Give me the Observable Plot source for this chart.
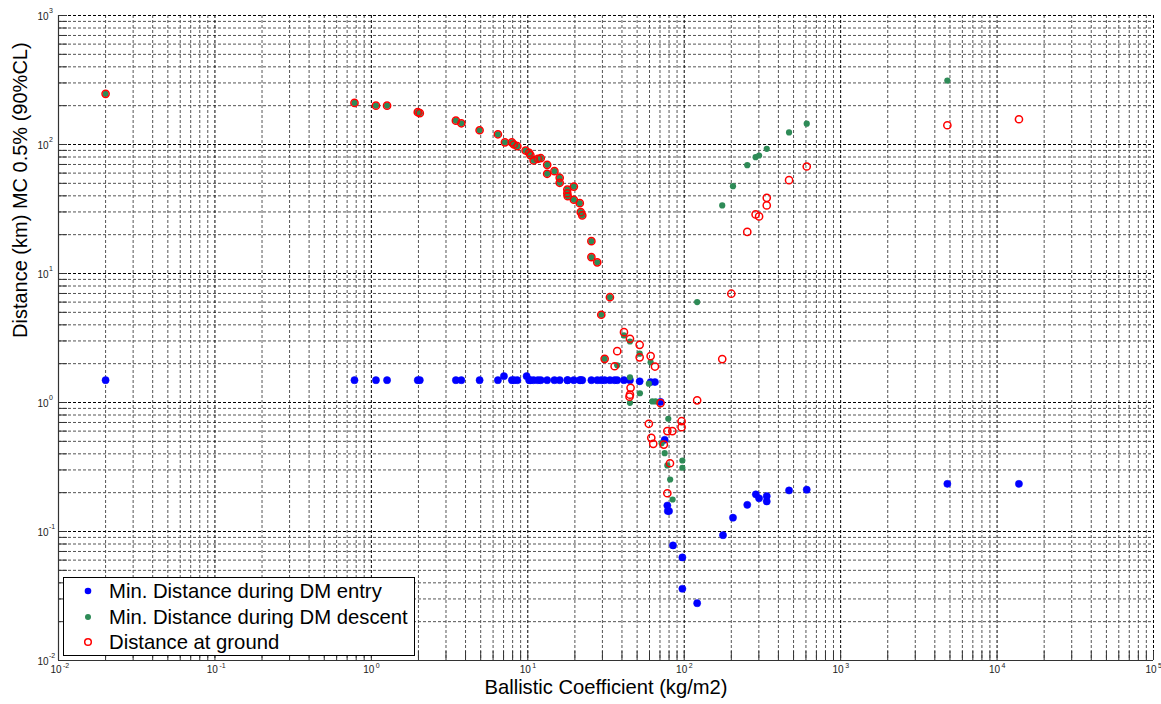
<!DOCTYPE html>
<html><head><meta charset="utf-8">
<script src="https://cdn.jsdelivr.net/npm/d3@7"></script>
<script src="https://cdn.jsdelivr.net/npm/@observablehq/plot@0.6"></script>
<style>
body{margin:0;background:#fff;}
#wrap{position:relative;width:1161px;height:704px;font-family:"Liberation Sans",Arial,sans-serif;}
#legend{position:absolute;left:63px;top:577px;width:350px;height:77px;border:1px solid #000;background:#fff;}
</style></head><body><div id="wrap"><div id="chart"></div><div id="legend"></div></div>
<script>
// ---- data ----
const seriesNames = ["Min. Distance during DM entry", "Min. Distance during DM descent", "Distance at ground"];
const seriesColors = ["#0000ff", "#2e8b57", "#ff0000"];

const entryBC = [0.02, 0.78, 1.07, 1.26, 1.98, 2.04, 3.47, 3.76, 4.92, 6.44, 7.04, 7.91, 8.15, 8.57, 9.83, 10.2, 10.4, 10.9, 11.6, 12.1, 13.3, 14.8, 16.0, 17.9, 18.0, 19.7, 21.5, 21.8, 22.3, 25.5, 27.8, 29.5, 31.0, 33.5, 35.9, 37.3, 41.2, 45.0, 51.9, 61.0, 65.0, 70.6, 75.0, 78.0, 78.5, 80.0, 84.8, 97.3, 97.3, 121, 177, 205, 253, 287, 301, 337, 337, 468, 607, 4810, 13800];
const entryDist = [1.49, 1.49, 1.49, 1.49, 1.49, 1.49, 1.49, 1.49, 1.49, 1.49, 1.60, 1.49, 1.49, 1.49, 1.60, 1.49, 1.49, 1.49, 1.49, 1.49, 1.49, 1.49, 1.49, 1.49, 1.49, 1.49, 1.49, 1.49, 1.49, 1.49, 1.49, 1.49, 1.49, 1.49, 1.49, 1.49, 1.49, 1.49, 1.46, 1.44, 1.44, 1.01, 0.514, 0.159, 0.144, 0.144, 0.078, 0.063, 0.036, 0.0278, 0.0936, 0.128, 0.161, 0.194, 0.181, 0.188, 0.171, 0.208, 0.211, 0.234, 0.234];

const descentBC = [0.02, 0.78, 1.07, 1.26, 1.98, 2.04, 3.47, 3.76, 4.92, 6.44, 7.14, 7.91, 8.15, 8.57, 9.68, 10.2, 10.4, 10.9, 11.6, 12.1, 13.3, 13.3, 14.8, 16.0, 16.0, 17.9, 19.7, 17.9, 18.0, 19.7, 21.5, 21.8, 22.3, 25.5, 25.5, 27.8, 29.5, 33.5, 31.0,
  41.2, 45.0, 51.9, 61.0, 37.3, 45.0, 59.4, 52.1, 45.0, 62.5, 65.6, 79.1, 71.7, 75.0, 78.0, 97.3, 97.3, 81.3, 84.3, 121, 175, 205, 253, 286, 301, 337, 468, 607, 4810];
const descentDist = [247, 210, 200, 200, 178, 175, 153, 146, 129, 120, 104, 104, 100, 97, 89.8, 86.3, 82.6, 75.2, 77.5, 78.3, 69.6, 59.3, 62.1, 55.2, 50.5, 44.8, 47.2, 41.9, 39.7, 37.3, 35.1, 29.9, 28.2, 17.8, 13.4, 12.2, 4.79, 6.55, 2.18,
  3.31, 2.97, 2.39, 2.05, 1.94, 1.57, 1.40, 1.18, 0.995, 1.02, 1.02, 0.748, 0.483, 0.405, 0.325, 0.355, 0.312, 0.253, 0.177, 6.0, 33.7, 47.5, 69.1, 79.7, 82.2, 92.6, 124, 145, 313];

const groundBC = [0.02, 0.78, 1.07, 1.26, 1.98, 2.04, 3.47, 3.76, 4.92, 6.44, 7.14, 7.91, 8.15, 8.57, 9.68, 10.2, 10.4, 10.9, 11.6, 12.1, 13.3, 13.3, 14.8, 16.0, 16.0, 17.9, 19.7, 17.9, 18.0, 19.7, 21.5, 21.8, 22.3, 25.5, 25.5, 27.8, 29.5, 33.5, 31.0,
  41.2, 45.0, 51.9, 51.9, 37.3, 61.0, 65.0, 35.9, 45.4, 45.0, 44.7, 70.6, 121, 59.4, 96.2, 96.2, 78.0, 84.0, 61.6, 63.4, 74.1, 81.1, 78.0, 175, 200, 253, 286, 301, 337, 337, 468, 607, 4810, 13800];
const groundDist = [247, 210, 200, 200, 178, 175, 153, 146, 129, 120, 104, 104, 100, 97, 89.8, 86.3, 82.6, 75.2, 77.5, 78.3, 69.6, 59.3, 62.1, 55.2, 50.5, 44.8, 47.2, 41.9, 39.7, 37.3, 35.1, 29.9, 28.2, 17.8, 13.4, 12.2, 4.79, 6.55, 2.18,
  3.51, 3.12, 2.80, 2.24, 2.50, 2.29, 1.90, 1.91, 1.30, 1.15, 1.11, 0.99, 1.04, 0.684, 0.716, 0.644, 0.600, 0.600, 0.532, 0.478, 0.472, 0.338, 0.198, 2.17, 6.97, 21.0, 28.7, 27.7, 38.6, 33.7, 52.9, 67.5, 141, 157];

const xExponents = [-2, -1, 0, 1, 2, 3, 4, 5];
const yExponents = [-2, -1, 0, 1, 2, 3];
const xLabel = "Ballistic Coefficient (kg/m2)";
const yLabel = "Distance (km) MC 0.5% (90%CL)";

// ---- build ----
const W = 1161, H = 704, mL = 58, mR = 8, mT = 15, mB = 44;
const plotW = W - mL - mR, plotH = H - mT - mB;
const toRows = (xs, ys) => xs.map((x, i) => ({x, y: ys[i]}));
const entry = toRows(entryBC, entryDist);
const descent = toRows(descentBC, descentDist);
const ground = toRows(groundBC, groundDist);

const majorX = xExponents.map(e => Math.pow(10, e));
const majorY = yExponents.map(e => Math.pow(10, e));
const minorOf = exps => exps.slice(0, -1).flatMap(e => d3.range(2, 10).map(m => m * Math.pow(10, e)));
const minorX = minorOf(xExponents);
const minorY = minorOf(yExponents);
const allX = majorX.concat(minorX);
const allY = majorY.concat(minorY);

const dash = "3,2";
const chart = Plot.plot({
  width: W, height: H,
  marginLeft: mL, marginRight: mR, marginTop: mT, marginBottom: mB,
  style: {fontFamily: "Liberation Sans, Arial, sans-serif", background: "#fff", overflow: "visible"},
  x: {type: "log", domain: [majorX[0], majorX[majorX.length - 1]], axis: null},
  y: {type: "log", domain: [majorY[0], majorY[majorY.length - 1]], axis: null},
  marks: [
    Plot.ruleX(minorX, {x: d => d, stroke: "#555", strokeDasharray: dash, strokeWidth: 1}),
    Plot.ruleY(minorY, {y: d => d, stroke: "#555", strokeDasharray: dash, strokeWidth: 1}),
    Plot.ruleX(majorX.slice(1), {x: d => d, stroke: "#000", strokeDasharray: dash, strokeWidth: 1}),
    Plot.ruleY(majorY.slice(1), {y: d => d, stroke: "#000", strokeDasharray: dash, strokeWidth: 1}),
    Plot.ruleX([majorX[0]], {x: d => d, stroke: "#333", strokeWidth: 1.2}),
    Plot.ruleY([majorY[0]], {y: d => d, stroke: "#333", strokeWidth: 1.2}),
    Plot.ruleX(allX, {x: d => d, insetTop: plotH - 9, stroke: "#333"}),
    Plot.ruleY(allY, {y: d => d, insetRight: plotW - 9, stroke: "#333"}),
    // tick labels
    Plot.text(majorX, {x: d => d, frameAnchor: "bottom", dy: 12, dx: 3, text: () => "10", fontSize: 10, fill: "#222", textAnchor: "end"}),
    Plot.text(majorX, {x: d => d, frameAnchor: "bottom", dy: 7, dx: 4.5, text: (d, i) => String(xExponents[i]), fontSize: 7, fill: "#222", textAnchor: "start"}),
    Plot.text(majorY, {y: d => d, frameAnchor: "left", dx: -10, dy: 1, text: () => "10", fontSize: 10, fill: "#222", textAnchor: "end"}),
    Plot.text(majorY, {y: d => d, frameAnchor: "left", dx: -9.5, dy: -5, text: (d, i) => String(yExponents[i]), fontSize: 7, fill: "#222", textAnchor: "start"}),
    // axis titles
    Plot.text([xLabel], {frameAnchor: "bottom", dy: 33, text: d => d, fontSize: 20.2, fill: "#000"}),
    Plot.text([yLabel], {frameAnchor: "left", dx: -38, rotate: -90, text: d => d, fontSize: 20, fill: "#000"}),
    // data
    Plot.dot(entry, {x: "x", y: "y", r: 3.6, fill: seriesColors[0], stroke: seriesColors[0], strokeWidth: 0.5}),
    Plot.dot(descent, {x: "x", y: "y", r: 3.1, fill: seriesColors[1]}),
    Plot.dot(ground, {x: "x", y: "y", r: 3.6, fill: "none", stroke: seriesColors[2], strokeWidth: 1.5})
  ]
});
document.getElementById("chart").appendChild(chart);

// legend
const ns = "http://www.w3.org/2000/svg";
const lsvg = document.createElementNS(ns, "svg");
lsvg.setAttribute("width", 350); lsvg.setAttribute("height", 77);
const rowsY = [13, 39, 64];
seriesNames.forEach((name, i) => {
  const c = document.createElementNS(ns, "circle");
  c.setAttribute("cx", 24); c.setAttribute("cy", rowsY[i]);
  if (i === 2) { c.setAttribute("r", 3.3); c.setAttribute("fill", "none"); c.setAttribute("stroke", seriesColors[i]); c.setAttribute("stroke-width", 1.5); }
  else { c.setAttribute("r", i === 0 ? 3.3 : 3); c.setAttribute("fill", seriesColors[i]); }
  lsvg.appendChild(c);
  const t = document.createElementNS(ns, "text");
  t.setAttribute("x", 45); t.setAttribute("y", rowsY[i] + 7);
  t.setAttribute("font-size", 20.3);
  t.setAttribute("font-family", "Liberation Sans, Arial, sans-serif");
  t.textContent = name;
  lsvg.appendChild(t);
});
document.getElementById("legend").appendChild(lsvg);
</script></body></html>
